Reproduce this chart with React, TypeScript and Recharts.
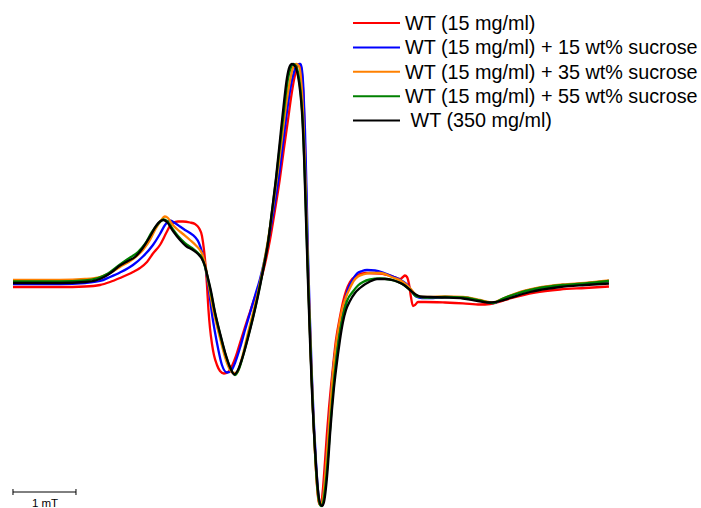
import { LineChart, Line, XAxis, YAxis, ReferenceLine } from "recharts";

// field offset (mT), signal (a.u.)
type Pt = [number, number];

const wt15: Pt[] = [
  [0, -5], [0.746, -5], [1.143, -4.5], [1.381, -3], [1.54, 0], [1.698, 4], [1.905, 10],
  [2.016, 14], [2.127, 20], [2.222, 28.5], [2.333, 37], [2.44, 50], [2.492, 56], [2.54, 59],
  [2.619, 60.5], [2.698, 60.5], [2.81, 59.5], [2.889, 58], [2.952, 54], [3.0, 46], [3.032, 32],
  [3.056, 17], [3.079, -3], [3.103, -28], [3.127, -46], [3.159, -62], [3.19, -73], [3.238, -83],
  [3.286, -89], [3.349, -91.5], [3.413, -90], [3.476, -84], [3.54, -74], [3.603, -61],
  [3.683, -45], [3.762, -30], [3.841, -15], [3.921, -1], [4.0, 18], [4.079, 42], [4.159, 72],
  [4.238, 104], [4.302, 134], [4.365, 162], [4.413, 184], [4.46, 202], [4.508, 214],
  [4.548, 218], [4.571, 215], [4.595, 202], [4.619, 172], [4.643, 117], [4.667, 47],
  [4.698, -18], [4.73, -78], [4.762, -128], [4.794, -170], [4.825, -203], [4.857, -222],
  [4.889, -222], [4.921, -206], [4.952, -180], [4.984, -151], [5.016, -126], [5.048, -104],
  [5.079, -85], [5.127, -58], [5.19, -35], [5.238, -20], [5.286, -9], [5.349, 0], [5.444, 6],
  [5.603, 9], [5.825, 8.5], [6.032, 5.5], [6.143, 3], [6.19, 5], [6.222, 6.5], [6.254, 5],
  [6.286, -2], [6.317, -15], [6.349, -24], [6.381, -23], [6.429, -20], [6.54, -20],
  [6.857, -20.5], [7.143, -21.3], [7.413, -22.5], [7.571, -22], [7.683, -20.5], [7.889, -16.5],
  [8.286, -10.5], [8.683, -7.5], [9.079, -6], [9.46, -4.5],
];

const sucrose15: Pt[] = [
  [0, -2], [0.746, -2], [1.143, -1], [1.381, 1], [1.54, 5], [1.698, 9.5], [1.905, 17],
  [2.063, 25.5], [2.222, 37], [2.333, 48], [2.413, 57], [2.492, 61.5], [2.571, 59],
  [2.651, 55.5], [2.73, 52], [2.81, 49], [2.889, 45], [2.952, 39], [3.0, 30], [3.048, 17],
  [3.095, -1], [3.127, -16], [3.159, -32], [3.206, -50], [3.254, -66], [3.317, -83],
  [3.397, -90.5], [3.46, -89], [3.524, -81], [3.603, -66], [3.683, -48], [3.762, -31],
  [3.841, -14], [3.921, 3], [4.0, 24], [4.079, 50], [4.159, 80], [4.238, 114], [4.302, 147],
  [4.365, 178], [4.429, 202], [4.476, 213], [4.516, 217.5], [4.563, 218], [4.587, 212],
  [4.611, 192], [4.635, 152], [4.659, 92], [4.683, 27], [4.714, -38], [4.746, -96],
  [4.778, -143], [4.81, -180], [4.841, -208], [4.873, -222], [4.905, -222], [4.937, -208],
  [4.968, -184], [5.0, -156], [5.032, -128], [5.063, -102], [5.095, -80], [5.143, -58],
  [5.19, -40], [5.222, -32], [5.27, -18], [5.317, -7], [5.381, 1], [5.46, 8.5], [5.54, 11],
  [5.619, 12], [5.746, 11.5], [5.873, 9.5], [6.032, 5.5], [6.19, 0.5], [6.27, -3.5],
  [6.333, -9.5], [6.397, -14.5], [6.492, -16], [6.619, -16], [6.857, -15], [7.143, -15.5],
  [7.413, -18.5], [7.619, -21], [7.778, -17], [8.0, -11.5], [8.317, -6.5], [8.73, -3],
  [9.079, -1.5], [9.46, 1],
];

const sucrose35: Pt[] = [
  [0, 2], [0.746, 2], [1.143, 3], [1.381, 5], [1.54, 9], [1.698, 15], [1.905, 23],
  [2.063, 32], [2.175, 42], [2.254, 52], [2.333, 60], [2.413, 65.5], [2.46, 64], [2.524, 58],
  [2.603, 53], [2.698, 48], [2.81, 42], [2.905, 36.5], [2.968, 32], [3.016, 26], [3.063, 14],
  [3.095, 1], [3.127, -10], [3.175, -27], [3.238, -44], [3.302, -60], [3.365, -75],
  [3.429, -86], [3.492, -91], [3.556, -91], [3.603, -83], [3.667, -68], [3.73, -51],
  [3.81, -31], [3.889, -10], [3.968, 14], [4.048, 42], [4.127, 75], [4.206, 112], [4.27, 144],
  [4.333, 176], [4.397, 201], [4.444, 214], [4.5, 218], [4.54, 216], [4.571, 204],
  [4.603, 172], [4.635, 117], [4.667, 47], [4.698, -16], [4.73, -76], [4.762, -128],
  [4.794, -170], [4.825, -202], [4.857, -220], [4.889, -223], [4.921, -216], [4.952, -196],
  [4.984, -170], [5.016, -142], [5.048, -114], [5.079, -90], [5.127, -63], [5.175, -43],
  [5.222, -28], [5.286, -15], [5.349, -6], [5.413, 1.5], [5.476, 5.5], [5.556, 7.5],
  [5.667, 9], [5.825, 9], [6.032, 4.5], [6.19, 0], [6.302, -6], [6.397, -13], [6.492, -15],
  [6.619, -15], [6.857, -14.5], [7.143, -15], [7.413, -18], [7.619, -20.5], [7.778, -16.5],
  [8.0, -11], [8.317, -6], [8.73, -2.5], [9.079, -1], [9.46, 1.5],
];

const sucrose55: Pt[] = [
  [0, 0.5], [0.746, 0.5], [1.143, 1.5], [1.349, 4], [1.508, 8.5], [1.667, 16], [1.825, 23],
  [1.984, 30], [2.095, 38], [2.206, 50], [2.302, 58], [2.389, 62.5], [2.444, 61], [2.524, 54],
  [2.619, 46], [2.73, 39], [2.841, 34], [2.937, 29], [3.0, 24], [3.048, 15], [3.095, 3],
  [3.143, -11], [3.206, -31], [3.286, -52], [3.365, -71], [3.444, -85], [3.524, -93],
  [3.587, -87], [3.651, -74], [3.73, -55], [3.81, -35], [3.889, -13], [3.968, 12],
  [4.048, 40], [4.111, 70], [4.175, 102], [4.238, 137], [4.302, 172], [4.349, 197],
  [4.397, 212], [4.452, 218], [4.492, 216], [4.532, 207], [4.571, 187], [4.603, 157],
  [4.635, 102], [4.667, 37], [4.698, -23], [4.73, -80], [4.762, -130], [4.794, -170],
  [4.825, -201], [4.857, -219], [4.889, -224], [4.921, -221], [4.952, -208], [4.984, -188],
  [5.016, -162], [5.048, -134], [5.079, -110], [5.127, -80], [5.175, -56], [5.238, -34],
  [5.302, -19], [5.397, -9.5], [5.476, -3.5], [5.556, 0], [5.667, 2.5], [5.825, 3.5],
  [5.984, 2.5], [6.095, 0.5], [6.206, -3], [6.302, -8], [6.413, -14.5], [6.54, -15.5],
  [6.857, -15], [7.143, -15.5], [7.413, -18.5], [7.619, -21], [7.778, -16.5], [8.0, -11.5],
  [8.317, -6.5], [8.73, -3], [9.079, -1.5], [9.46, 1],
];

const wt350: Pt[] = [
  [0, -1], [0.746, -1], [1.143, 0], [1.333, 2], [1.46, 5.5], [1.571, 10], [1.698, 16.5],
  [1.825, 21], [1.937, 25], [2.048, 33], [2.175, 45.5], [2.27, 56], [2.333, 60.5],
  [2.389, 62], [2.444, 60], [2.54, 51], [2.651, 42], [2.746, 36], [2.857, 32], [2.937, 28],
  [3.0, 23], [3.048, 16], [3.095, 4], [3.143, -9], [3.206, -30], [3.286, -51], [3.365, -70],
  [3.444, -85], [3.516, -92.5], [3.571, -88], [3.651, -74], [3.73, -56], [3.81, -36],
  [3.889, -14], [3.968, 11], [4.048, 39], [4.111, 71], [4.175, 104], [4.238, 142],
  [4.302, 180], [4.349, 204], [4.389, 215], [4.429, 218], [4.476, 216], [4.524, 206],
  [4.556, 192], [4.587, 170], [4.619, 127], [4.651, 62], [4.683, -1], [4.714, -58],
  [4.746, -110], [4.778, -151], [4.81, -183], [4.841, -208], [4.873, -221], [4.905, -224],
  [4.937, -220], [4.968, -206], [5.0, -183], [5.032, -153], [5.063, -128], [5.095, -106],
  [5.127, -88], [5.159, -72], [5.19, -58], [5.238, -40], [5.286, -28], [5.349, -19],
  [5.429, -11], [5.508, -6], [5.667, 0.5], [5.778, 3], [5.905, 3], [6.016, 2], [6.111, 0],
  [6.206, -3], [6.302, -8], [6.381, -12], [6.46, -14.5], [6.619, -15], [6.857, -15.5],
  [7.143, -16.5], [7.381, -19], [7.571, -20.5], [7.73, -19], [7.889, -16], [8.206, -10],
  [8.683, -5], [9.079, -3], [9.46, -1.5],
];

const series = [
  { key: "wt15", label: "WT (15 mg/ml)", color: "#ff0000", points: wt15 },
  { key: "suc15", label: "WT (15 mg/ml) + 15 wt% sucrose", color: "#0000ff", points: sucrose15 },
  { key: "suc35", label: "WT (15 mg/ml) + 35 wt% sucrose", color: "#ff8000", points: sucrose35 },
  { key: "suc55", label: "WT (15 mg/ml) + 55 wt% sucrose", color: "#008000", points: sucrose55 },
  { key: "wt350", label: " WT (350 mg/ml)", color: "#000000", points: wt350 },
];

const W = 701;
const H = 508;
const FONT = "'Liberation Sans', Arial, sans-serif";
const BAR_Y = -210;

const toRows = (pts: Pt[]) => pts.map(([field, signal]) => ({ field, signal }));

function LegendBox() {
  return (
    <svg width={W} height={H} style={{ position: "absolute", left: 0, top: 0, pointerEvents: "none" }}>
      {series.map((s, i) => {
        const y = 23 + i * 24.4;
        return (
          <g key={s.key}>
            <line x1={353} x2={400} y1={y} y2={y} stroke={s.color} strokeWidth={2} />
            <text x={405} y={y + 6.7} fontFamily={FONT} fontSize={19.8} fill="#000" style={{ whiteSpace: "pre" }}>
              {s.label}
            </text>
          </g>
        );
      })}
      <text x={45} y={507} textAnchor="middle" fontFamily={FONT} fontSize={11.5} fill="#000">
        1 mT
      </text>
    </svg>
  );
}

export default function App() {
  return (
    <div style={{ position: "relative", width: W, height: H, background: "#fff" }}>
      <style>{"body{margin:0}"}</style>
      <LineChart width={W} height={H} margin={{ top: 0, right: 0, bottom: 0, left: 0 }}>
        <XAxis type="number" dataKey="field" domain={[-0.206, 10.921]} allowDataOverflow hide />
        <YAxis type="number" domain={[-226, 282]} allowDataOverflow hide />
        {series.map((s) => (
          <Line
            key={s.key}
            data={toRows(s.points)}
            dataKey="signal"
            type="monotone"
            stroke={s.color}
            strokeWidth={2.3}
            dot={false}
            activeDot={false}
            isAnimationActive={false}
          />
        ))}
        <ReferenceLine segment={[{ x: 0, y: BAR_Y }, { x: 1, y: BAR_Y }]} stroke="#000" strokeWidth={1} />
        <ReferenceLine segment={[{ x: 0, y: BAR_Y - 3 }, { x: 0, y: BAR_Y + 3 }]} stroke="#000" strokeWidth={1} />
        <ReferenceLine segment={[{ x: 1, y: BAR_Y - 3 }, { x: 1, y: BAR_Y + 3 }]} stroke="#000" strokeWidth={1} />
      </LineChart>
      <LegendBox />
    </div>
  );
}
